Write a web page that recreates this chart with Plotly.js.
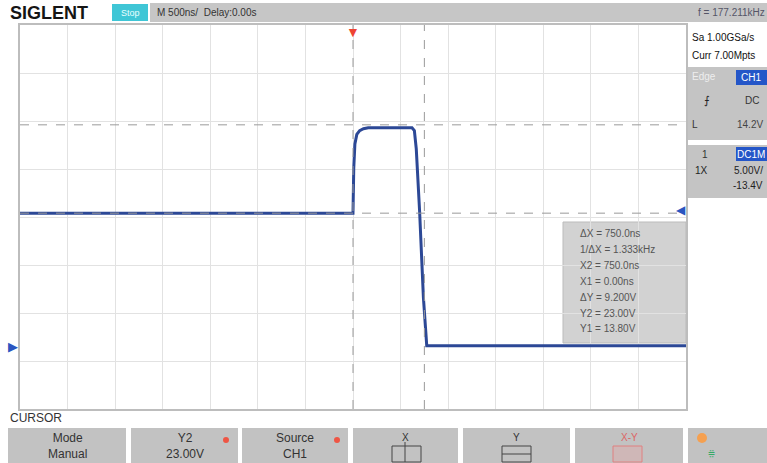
<!DOCTYPE html>
<html><head><meta charset="utf-8">
<script src="https://cdn.plot.ly/plotly-3.0.1.min.js"></script>
<style>html,body{margin:0;padding:0;background:#fff;}#c{width:767px;height:463px;}</style>
</head><body><div id="c"></div>
<script>
// ---- data ----
const timeNs = [-3500, 0, 8, 20, 40, 70, 110, 160, 620, 645, 665, 700, 740, 775, 3500];
const volts  = [13.8, 13.8, 18.5, 21.0, 22.0, 22.4, 22.6, 22.7, 22.7, 22.4, 20.5, 14.0, 5.0, 0.0, 0.0];
const cursorX = [0, 750];        // ns
const cursorY = [13.8, 23.0];    // V
const triggerLevel = 14.2;       // V
const timeDiv = 500, voltDiv = 5, offset = -13.4;
const cursorLines = ["\u0394X = 750.0ns", "1/\u0394X = 1.333kHz", "X2 = 750.0ns", "X1 = 0.00ns", "\u0394Y = 9.200V", "Y2 = 23.00V", "Y1 = 13.80V"];
const buttonLabels = ["Mode<br>Manual", "Y2<br>23.00V", "Source<br>CH1", "X", "Y", "X-Y", ""];

// ---- geometry helpers (layout only) ----
const L = 20, R = 686, T = 25, B = 409;
const px = p => (p - L) / (R - L);
const py = p => (B - p) / (B - T);
const yCenter = -offset;
const yMin = yCenter - 4 * voltDiv, yMax = yCenter + 4 * voltDiv;

const shapes = [];
const ann = [];
function rect(x0, y0, x1, y1, fill, line) {
  shapes.push({type: 'rect', xref: 'paper', yref: 'paper', x0: px(x0), x1: px(x1), y0: py(y1), y1: py(y0),
    fillcolor: fill, line: {width: line ? 1 : 0, color: line || fill}, layer: 'below'});
}
function text(x, y, t, opt) {
  opt = opt || {};
  ann.push({xref: 'paper', yref: 'paper', x: px(x), y: py(y), text: t, showarrow: false,
    xanchor: opt.xa || 'left', yanchor: 'middle', align: opt.align || 'left',
    font: {family: opt.family || 'Liberation Sans, Arial, sans-serif', size: opt.size || 10, color: opt.color || '#333', weight: opt.weight || 'normal'},
    bgcolor: opt.bg || 'rgba(0,0,0,0)'});
}

// top bar
rect(150, 3, 767, 22, '#c6c6c6');
rect(112, 4, 148, 21, '#3fc6d6');
text(8, 13, 'SIGLENT', {size: 18, weight: 'bold', color: '#151515', family: 'Liberation Sans, Arial, sans-serif'});
text(130, 12.5, 'Stop', {size: 9, color: '#e8ffff', xa: 'center'});
text(155, 12.5, 'M 500ns/  Delay:0.00s', {size: 10, color: '#333'});
text(767, 12.5, 'f = 177.211kHz', {size: 10, color: '#556', xa: 'right'});

// right panel
text(690, 37, 'Sa 1.00GSa/s', {size: 10, color: '#111'});
text(690, 56, 'Curr 7.00Mpts', {size: 10, color: '#111'});
rect(686, 67, 767, 140, '#c4c4c4');
rect(736, 70, 767, 85, '#2456c8');
text(690, 77, 'Edge', {size: 10, color: '#eee'});
text(751, 77.5, 'CH1', {size: 10, color: '#fff', xa: 'center'});
text(707, 101, '\u2A0D', {size: 11, color: '#222', xa: 'center'});
text(752, 101, 'DC', {size: 10, color: '#333', xa: 'center'});
text(690, 124, 'L', {size: 10, color: '#333'});
text(765, 124, '14.2V', {size: 10, color: '#444', xa: 'right'});
rect(686, 145, 767, 198, '#c4c4c4');
rect(736, 147, 767, 161, '#2456c8');
text(705, 154, '1', {size: 10, color: '#333', xa: 'center'});
text(751, 154, 'DC1M', {size: 10, color: '#fff', xa: 'center'});
text(693, 170, '1X', {size: 10, color: '#222'});
text(765, 170, '5.00V/', {size: 10, color: '#222', xa: 'right'});
text(765, 185, '-13.4V', {size: 10, color: '#222', xa: 'right'});

// bottom menu
text(8, 418, 'CURSOR', {size: 12, color: '#333'});
const btnX = [[8,126],[131,238],[242,348],[353,458],[463,570],[575,683],[688,767]];
btnX.forEach((b, i) => {
  rect(b[0], 428, b[1], 463, '#c2c2c2');
  if (buttonLabels[i]) {
    const iconBtn = i >= 3;
    text((b[0] + b[1]) / 2, iconBtn ? 437 : 446, buttonLabels[i], {size: iconBtn ? 10 : 12, color: i === 5 ? '#d66' : '#333', xa: 'center', align: 'center'});
  }
});
// red dots on Y2 and Source buttons
[[226,440],[337,440]].forEach(d => shapes.push({type:'circle', xref:'paper', yref:'paper', x0:px(d[0]-3), x1:px(d[0]+3), y0:py(d[1]+3), y1:py(d[1]-3), fillcolor:'#ee5544', line:{width:0}}));
// small icons in X / Y / X-Y buttons
shapes.push({type:'rect', xref:'paper', yref:'paper', x0:px(392), x1:px(421), y0:py(462), y1:py(446), line:{color:'#444', width:1}, fillcolor:'rgba(0,0,0,0)'});
shapes.push({type:'line', xref:'paper', yref:'paper', x0:px(405), x1:px(405), y0:py(462), y1:py(442), line:{color:'#444', width:1}});
shapes.push({type:'rect', xref:'paper', yref:'paper', x0:px(502), x1:px(531), y0:py(462), y1:py(446), line:{color:'#444', width:1}, fillcolor:'rgba(0,0,0,0)'});
shapes.push({type:'line', xref:'paper', yref:'paper', x0:px(502), x1:px(531), y0:py(454), y1:py(454), line:{color:'#444', width:1}});
shapes.push({type:'rect', xref:'paper', yref:'paper', x0:px(613), x1:px(642), y0:py(462), y1:py(446), line:{color:'#e08080', width:1}, fillcolor:'rgba(240,160,160,0.3)'});
shapes.push({type:'circle', xref:'paper', yref:'paper', x0:px(697), x1:px(707), y0:py(443), y1:py(433), fillcolor:'#f5a050', line:{width:0}});
text(712, 452, '\u2A77', {size: 12, color: '#3a6', xa: 'center'});

// cursor info box
rect(563, 222, 686, 343, '#d2d2d2', '#bbb');
cursorLines.forEach((s, i) => text(578, 234 + i * 15.8, s, {size: 10, color: '#555'}));

// cursor lines (data coords)
cursorX.forEach(v => shapes.push({type:'line', xref:'x', yref:'paper', x0:v, x1:v, y0:0, y1:1, line:{color:'#9a9a9a', width:1, dash:'dash'}, layer:'above'}));
cursorY.forEach(v => shapes.push({type:'line', xref:'paper', yref:'y', x0:0, x1:1, y0:v, y1:v, line:{color:'#9a9a9a', width:1, dash:'dash'}, layer:'above'}));

// markers: trigger position, ground, trigger level
ann.push({xref:'x', yref:'paper', x:0, y:py(31), text:'\u25BC', showarrow:false, font:{size:14, color:'#ee4433'}, xanchor:'center', yanchor:'middle'});
ann.push({xref:'paper', yref:'y', x:px(13), y:0, text:'\u25B6', showarrow:false, font:{size:13, color:'#2b55c0'}, xanchor:'center', yanchor:'middle'});
ann.push({xref:'paper', yref:'y', x:px(681), y:triggerLevel, text:'\u25C0', showarrow:false, font:{size:12, color:'#2b55c0'}, xanchor:'center', yanchor:'middle'});

const trace = {x: timeNs, y: volts, type: 'scatter', mode: 'lines', line: {color: '#2c4896', width: 3}, hoverinfo: 'skip'};

const layout = {
  width: 767, height: 463,
  margin: {l: L, r: 767 - R, t: T, b: 463 - B, pad: 0},
  paper_bgcolor: '#ffffff', plot_bgcolor: '#ffffff',
  showlegend: false,
  xaxis: {range: [-7 * timeDiv, 7 * timeDiv], tick0: 0, dtick: timeDiv, showticklabels: false, ticks: '',
    showgrid: true, gridcolor: '#e2e2e2', gridwidth: 1, zeroline: false,
    showline: true, linecolor: '#bdbdbd', linewidth: 2, mirror: true, fixedrange: true},
  yaxis: {range: [yMin, yMax], tick0: yMin, dtick: voltDiv, showticklabels: false, ticks: '',
    showgrid: true, gridcolor: '#e2e2e2', gridwidth: 1, zeroline: false,
    showline: true, linecolor: '#bdbdbd', linewidth: 2, mirror: true, fixedrange: true},
  shapes: shapes, annotations: ann
};
Plotly.newPlot('c', [trace], layout, {displayModeBar: false, staticPlot: true});
</script></body></html>
